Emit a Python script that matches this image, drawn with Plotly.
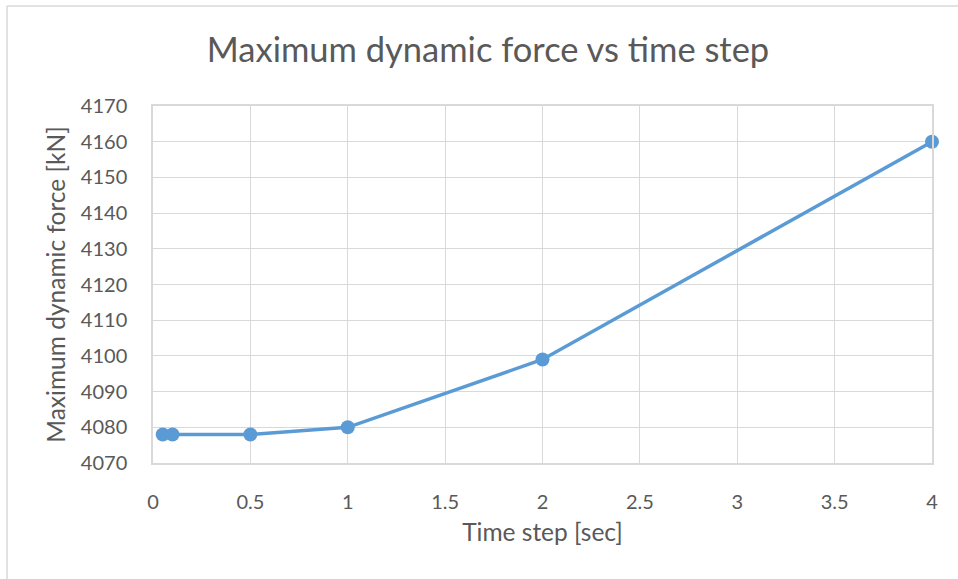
import plotly.graph_objects as go

# Time step [sec] and the corresponding maximum dynamic force [kN]
time_step = [0.05, 0.1, 0.5, 1, 2, 4]
max_force = [4078, 4078, 4078, 4080, 4099, 4160]

x_ticks = [0, 0.5, 1, 1.5, 2, 2.5, 3, 3.5, 4]
x_tick_text = ["0", "0.5", "1", "1.5", "2", "2.5", "3", "3.5", "4"]
y_ticks = [4070, 4080, 4090, 4100, 4110, 4120, 4130, 4140, 4150, 4160, 4170]

W, H = 958, 579
L, R, T, B = 153, 26, 106, 116
TEXT = "#595959"
GRID = "#d9d9d9"
BLUE = "#5b9bd5"
FONT = "Lato, 'Open Sans', sans-serif"

pw, ph = W - L - R, H - T - B


def px_x(p):
    return (p - L) / pw


def px_y(p):
    return 1 - (p - T) / ph


fig = go.Figure(
    go.Scatter(
        x=time_step,
        y=max_force,
        mode="lines+markers",
        line=dict(color=BLUE, width=3.5),
        marker=dict(color=BLUE, size=14),
        cliponaxis=False,
        showlegend=False,
    )
)

fig.update_layout(
    width=W,
    height=H,
    margin=dict(l=L, r=R, t=T, b=B),
    paper_bgcolor="white",
    plot_bgcolor="white",
    font=dict(family=FONT, color=TEXT),
    title=dict(
        text="Maximum dynamic force vs time step",
        x=px_x(488),
        xref="paper",
        xanchor="center",
        y=1 - 50 / H,
        yanchor="middle",
        font=dict(size=34.5, color=TEXT, family=FONT),
    ),
    xaxis=dict(
        range=[0, 4],
        tickvals=x_ticks,
        ticktext=x_tick_text,
        showgrid=True,
        gridcolor=GRID,
        gridwidth=1.3,
        showline=True,
        linecolor=GRID,
        linewidth=1.5,
        mirror=True,
        zeroline=False,
        ticks="",
        ticklabelstandoff=20,
        tickfont=dict(size=20, color=TEXT),
        title=dict(text="Time step [sec]", font=dict(size=24.5, color=TEXT), standoff=12),
    ),
    yaxis=dict(
        range=[4070, 4170],
        tickvals=y_ticks,
        showgrid=True,
        gridcolor=GRID,
        gridwidth=1.3,
        showline=True,
        linecolor=GRID,
        linewidth=1.5,
        mirror=True,
        zeroline=False,
        ticks="",
        ticklabelstandoff=20,
        tickfont=dict(size=20, color=TEXT),
        title=dict(text="Maximum dynamic force [kN]", font=dict(size=24.5, color=TEXT), standoff=8),
    ),
    shapes=[
        # chart frame (left and top edges)
        dict(type="line", xref="paper", yref="paper",
             x0=px_x(7), x1=px_x(7), y0=px_y(6), y1=px_y(H + 5),
             line=dict(color=GRID, width=1.5)),
        dict(type="line", xref="paper", yref="paper",
             x0=px_x(7), x1=px_x(W + 5), y0=px_y(6), y1=px_y(6),
             line=dict(color=GRID, width=1.5)),
    ],
)

fig.write_html("out.html")
